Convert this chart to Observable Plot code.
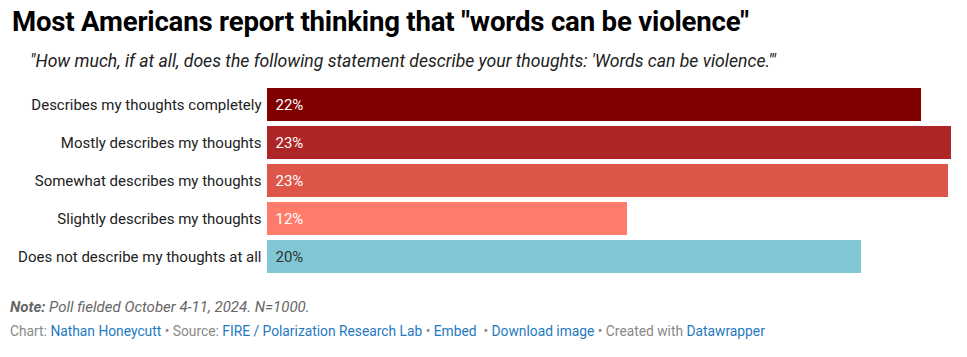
<!DOCTYPE html>
<html>
<head>
<meta charset="utf-8">
<script src="https://cdn.jsdelivr.net/npm/d3@7"></script>
<script src="https://cdn.jsdelivr.net/npm/@observablehq/plot@0.6"></script>
<style>
  body { margin: 0; background: #fff; font-family: Roboto, "Noto Sans", sans-serif; }
  #wrap { position: relative; width: 967px; height: 357px; }
  #title { position: absolute; left: 12px; top: 5px; font-size: 27.6px; font-weight: 700; color: #000; white-space: nowrap; letter-spacing: -0.2px; }
  #subtitle { position: absolute; left: 30px; top: 51px; font-size: 17.6px; font-style: italic; color: #222; white-space: nowrap; }
  #chart { position: absolute; left: 0; top: 81px; }
  #note { position: absolute; left: 10px; top: 298px; font-size: 15px; font-style: italic; color: #666; white-space: nowrap; }
  #source { position: absolute; left: 10px; top: 323px; font-size: 13.8px; color: #888; white-space: nowrap; }
  #source a { color: #1f7ac0; text-decoration: none; }
</style>
</head>
<body>
<div id="wrap">
  <div id="title">Most Americans report thinking that "words can be violence"</div>
  <div id="subtitle">"How much, if at all, does the following statement describe your thoughts: 'Words can be violence.'"</div>
  <div id="chart"></div>
  <div id="note"><b>Note:</b> Poll fielded October 4-11, 2024. N=1000.</div>
  <div id="source">Chart: <a>Nathan Honeycutt</a> • Source: <a>FIRE / Polarization Research Lab</a> • <a>Embed</a> &nbsp;• <a>Download image</a> • Created with <a>Datawrapper</a></div>
</div>
<script>
const categories = [
  "Describes my thoughts completely",
  "Mostly describes my thoughts",
  "Somewhat describes my thoughts",
  "Slightly describes my thoughts",
  "Does not describe my thoughts at all"
];
const values = [21.8, 22.8, 22.7, 12.0, 19.8];
const labels = ["22%", "23%", "23%", "12%", "20%"];
const colors = ["#800000", "#ad2524", "#de5549", "#ff7b6b", "#80c8d5"];
const labelColors = ["#ffffff", "#ffffff", "#ffffff", "#ffffff", "#333333"];

const data = categories.map((c, i) => ({category: c, value: values[i], label: labels[i], color: colors[i], labelColor: labelColors[i]}));

const chart = Plot.plot({
  width: 967,
  height: 199,
  marginLeft: 267,
  marginRight: 16,
  marginTop: 0,
  marginBottom: 0,
  style: {fontFamily: "Roboto, sans-serif", fontSize: "15px", color: "#333", background: "transparent"},
  x: {domain: [0, 22.8], axis: null},
  y: {domain: categories, padding: 0.124, label: null, tickSize: 0, tickPadding: 6},
  marks: [
    Plot.barX(data, {x: "value", y: "category", fill: "color"}),
    Plot.text(data, {x: 0, y: "category", text: "label", fill: "labelColor", textAnchor: "start", dx: 8, fontSize: 15}),
    Plot.axisY({tickSize: 0, tickPadding: 6, fontSize: 15, label: null, textAnchor: "end", fill: "#222"})
  ]
});
document.getElementById("chart").appendChild(chart);
</script>
</body>
</html>
